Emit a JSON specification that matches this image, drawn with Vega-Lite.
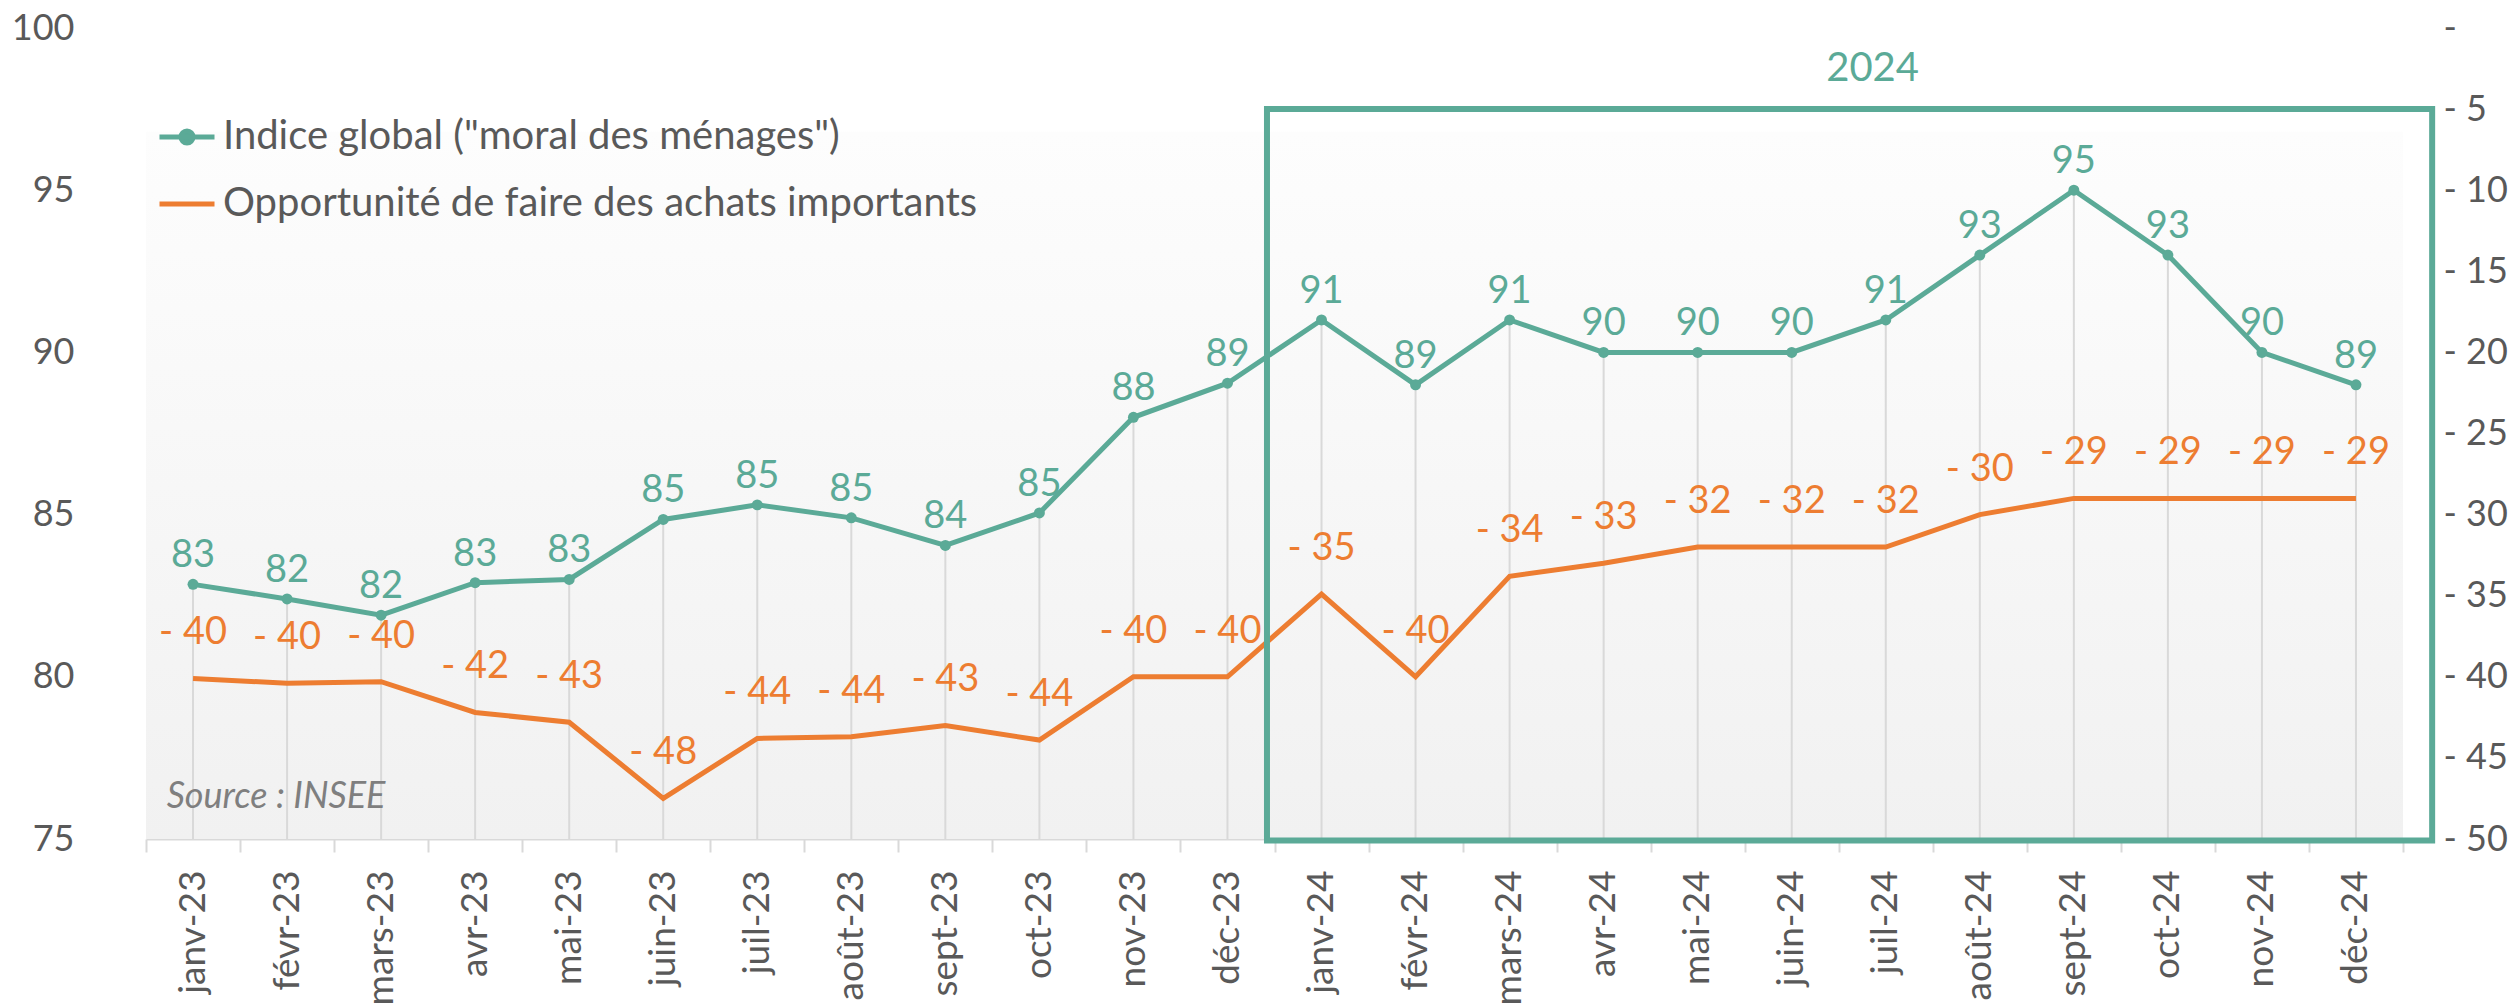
{
  "$schema": "https://vega.github.io/schema/vega-lite/v6.json",
  "autosize": {"type": "none"},
  "width": 2257,
  "height": 811,
  "padding": {"left": 146, "top": 28, "right": 108, "bottom": 169},
  "background": "#ffffff",
  "config": {
    "view": {"stroke": null},
    "font": "Lato",
    "axis": {"labelFont": "Lato", "labelFontSize": 36, "labelColor": "#595959", "grid": false},
    "legend": {"labelFont": "Lato", "labelFontSize": 40, "labelColor": "#595959", "padding": 0, "offset": 0, "labelLimit": 3000}
  },
  "datasets": {
    "d": [
      {"m": "janv-23", "g": 82.85, "gl": "83", "o": -40.1, "ol": "- 40"},
      {"m": "févr-23", "g": 82.4, "gl": "82", "o": -40.4, "ol": "- 40"},
      {"m": "mars-23", "g": 81.9, "gl": "82", "o": -40.3, "ol": "- 40"},
      {"m": "avr-23", "g": 82.9, "gl": "83", "o": -42.2, "ol": "- 42"},
      {"m": "mai-23", "g": 83.0, "gl": "83", "o": -42.8, "ol": "- 43"},
      {"m": "juin-23", "g": 84.85, "gl": "85", "o": -47.5, "ol": "- 48"},
      {"m": "juil-23", "g": 85.3, "gl": "85", "o": -43.8, "ol": "- 44"},
      {"m": "août-23", "g": 84.9, "gl": "85", "o": -43.7, "ol": "- 44"},
      {"m": "sept-23", "g": 84.05, "gl": "84", "o": -43.0, "ol": "- 43"},
      {"m": "oct-23", "g": 85.05, "gl": "85", "o": -43.9, "ol": "- 44"},
      {"m": "nov-23", "g": 88.0, "gl": "88", "o": -40.0, "ol": "- 40"},
      {"m": "déc-23", "g": 89.05, "gl": "89", "o": -40.0, "ol": "- 40"},
      {"m": "janv-24", "g": 91.0, "gl": "91", "o": -34.9, "ol": "- 35"},
      {"m": "févr-24", "g": 89.0, "gl": "89", "o": -40.0, "ol": "- 40"},
      {"m": "mars-24", "g": 91.0, "gl": "91", "o": -33.8, "ol": "- 34"},
      {"m": "avr-24", "g": 90.0, "gl": "90", "o": -33.0, "ol": "- 33"},
      {"m": "mai-24", "g": 90.0, "gl": "90", "o": -32.0, "ol": "- 32"},
      {"m": "juin-24", "g": 90.0, "gl": "90", "o": -32.0, "ol": "- 32"},
      {"m": "juil-24", "g": 91.0, "gl": "91", "o": -32.0, "ol": "- 32"},
      {"m": "août-24", "g": 93.0, "gl": "93", "o": -30.0, "ol": "- 30"},
      {"m": "sept-24", "g": 95.0, "gl": "95", "o": -29.0, "ol": "- 29"},
      {"m": "oct-24", "g": 93.0, "gl": "93", "o": -29.0, "ol": "- 29"},
      {"m": "nov-24", "g": 90.0, "gl": "90", "o": -29.0, "ol": "- 29"},
      {"m": "déc-24", "g": 89.0, "gl": "89", "o": -29.0, "ol": "- 29"}
    ],
    "bg": [{"x": 0, "x2": 24, "y": 75, "y2": 96.8}],
    "box": [{"x": 11.92, "x2": 24.31, "y": 74.95, "y2": 97.5}],
    "year": [{"x": 18.36, "y": 98.74, "t": "2024"}],
    "src": [{"x": 0.22, "y": 76.29, "t": "Source : INSEE"}]
  },
  "layer": [
    {
      "data": {"name": "bg"},
      "mark": {
        "type": "rect",
        "fill": {"gradient": "linear", "x1": 0, "y1": 0, "x2": 0, "y2": 1,
          "stops": [{"offset": 0, "color": "#fdfdfd"}, {"offset": 1, "color": "#f1f1f1"}]}
      },
      "encoding": {
        "x": {"field": "x", "type": "quantitative", "scale": {"domain": [0, 24], "nice": false, "zero": false}, "axis": null},
        "x2": {"field": "x2"},
        "y": {"field": "y", "type": "quantitative", "scale": {"domain": [75, 100], "nice": false, "zero": false}, "axis": null},
        "y2": {"field": "y2"}
      }
    },
    {
      "data": {"name": "d"},
      "encoding": {
        "x": {"field": "m", "type": "nominal", "sort": null,
          "scale": {"paddingInner": 0, "paddingOuter": 0},
          "axis": {"title": null, "labelAngle": -90, "tickBand": "extent", "ticks": true, "tickSize": 13,
            "tickColor": "#d9d9d9", "tickWidth": 2, "domainColor": "#d9d9d9", "domainWidth": 2, "labelPadding": 18, "labelFontSize": 37}}
      },
      "layer": [
        {
          "mark": {"type": "rule", "color": "#d9d9d9", "strokeWidth": 2},
          "encoding": {
            "y": {"field": "g", "type": "quantitative", "scale": {"domain": [75, 100], "nice": false, "zero": false},
              "axis": {"title": null, "values": [75, 80, 85, 90, 95, 100], "ticks": false, "domain": false, "labelPadding": 72}},
            "y2": {"datum": 75}
          }
        },
        {
          "mark": {"type": "line", "strokeWidth": 5, "point": {"filled": true, "size": 120}},
          "encoding": {
            "y": {"field": "g", "type": "quantitative"},
            "color": {"datum": "Indice global (\"moral des ménages\")", "type": "nominal",
              "scale": {"range": ["#5BAA97"]},
              "legend": {"title": null, "orient": "none", "legendX": 11, "legendY": 79,
                "symbolType": "M-1,0H1M0.22,0A0.22,0.22,0,1,1,-0.22,0A0.22,0.22,0,1,1,0.22,0Z",
                "symbolSize": 3025, "symbolStrokeWidth": 5, "labelOffset": 6,
                "symbolFillColor": "#5BAA97", "symbolStrokeColor": "#5BAA97"}}
          }
        },
        {
          "mark": {"type": "text", "color": "#5BAA97", "fontSize": 38, "dy": -28, "baseline": "middle", "align": "center"},
          "encoding": {
            "y": {"field": "g", "type": "quantitative"},
            "text": {"field": "gl"}
          }
        }
      ]
    },
    {
      "data": {"name": "d"},
      "encoding": {
        "x": {"field": "m", "type": "nominal", "sort": null, "scale": {"paddingInner": 0, "paddingOuter": 0}, "axis": null}
      },
      "layer": [
        {
          "mark": {"type": "line", "strokeWidth": 5},
          "encoding": {
            "y": {"field": "o", "type": "quantitative", "scale": {"domain": [-50, 0], "nice": false, "zero": false},
              "axis": {"orient": "right", "title": null, "values": [-50, -45, -40, -35, -30, -25, -20, -15, -10, -5, 0],
                "ticks": false, "domain": false, "labelPadding": 40,
                "labelExpr": "datum.value == 0 ? '  -' : '- ' + abs(datum.value)"}},
            "stroke": {"datum": "Opportunité de faire des achats importants", "type": "nominal",
              "scale": {"range": ["#ED7D31"]},
              "legend": {"title": null, "orient": "none", "legendX": 11, "legendY": 146,
                "symbolType": "stroke", "symbolSize": 3025, "symbolStrokeWidth": 5, "labelOffset": 6}}
          }
        },
        {
          "mark": {"type": "text", "color": "#ED7D31", "fontSize": 38, "dy": -45, "baseline": "middle", "align": "center"},
          "encoding": {
            "y": {"field": "o", "type": "quantitative"},
            "text": {"field": "ol"}
          }
        }
      ]
    },
    {
      "data": {"name": "box"},
      "mark": {"type": "rect", "fillOpacity": 0, "stroke": "#5BAA97", "strokeWidth": 6},
      "encoding": {
        "x": {"field": "x", "type": "quantitative", "scale": {"domain": [0, 24], "nice": false, "zero": false}, "axis": null},
        "x2": {"field": "x2"},
        "y": {"field": "y", "type": "quantitative", "scale": {"domain": [75, 100], "nice": false, "zero": false}, "axis": null},
        "y2": {"field": "y2"}
      }
    },
    {
      "data": {"name": "year"},
      "mark": {"type": "text", "baseline": "middle", "align": "center", "color": "#5BAA97", "fontSize": 40},
      "encoding": {
        "x": {"field": "x", "type": "quantitative", "scale": {"domain": [0, 24], "nice": false, "zero": false}, "axis": null},
        "y": {"field": "y", "type": "quantitative", "scale": {"domain": [75, 100], "nice": false, "zero": false}, "axis": null},
        "text": {"field": "t"}
      }
    },
    {
      "data": {"name": "src"},
      "mark": {"type": "text", "baseline": "middle", "align": "left", "color": "#7f7f7f", "fontSize": 36, "fontStyle": "italic"},
      "encoding": {
        "x": {"field": "x", "type": "quantitative", "scale": {"domain": [0, 24], "nice": false, "zero": false}, "axis": null},
        "y": {"field": "y", "type": "quantitative", "scale": {"domain": [75, 100], "nice": false, "zero": false}, "axis": null},
        "text": {"field": "t"}
      }
    }
  ],
  "resolve": {"scale": {"x": "independent", "y": "independent", "color": "independent", "stroke": "independent"}}
}
